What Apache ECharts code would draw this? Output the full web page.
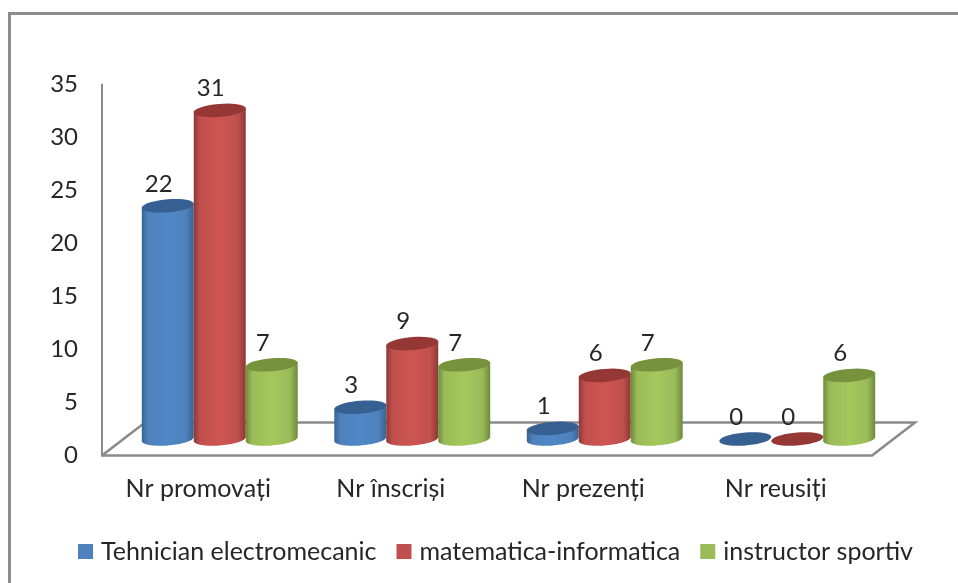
<!DOCTYPE html>
<html>
<head>
<meta charset="utf-8">
<style>
  html, body { margin: 0; padding: 0; background: #fff; }
  #chart { width: 958px; height: 583px; }
</style>
<script src="https://cdn.jsdelivr.net/npm/echarts@6/dist/echarts.min.js"></script>
</head>
<body>
<div id="chart"></div>
<script>
const categories = ['Nr promovați', 'Nr înscriși', 'Nr prezenți', 'Nr reusiți']
const seriesNames = ['Tehnician electromecanic', 'matematica-informatica', 'instructor sportiv']
const tehnician = [22, 3, 1, 0]
const matematica = [31, 9, 6, 0]
const instructor = [7, 7, 7, 6]
const yTicks = { min: 0, max: 35, interval: 5 }

const fontName = 'Lato'
const textColor = '#262626'
const lineColor = '#8a8a8a'

// culori pentru cilindri: margine, centru, capac
const palette = [
  { base: '#4F81BD', edge: '#386494', mid: '#5087C6', top: '#376092' },
  { base: '#C0504D', edge: '#8C3836', mid: '#CE5552', top: '#953735' },
  { base: '#9BBB59', edge: '#6E8B3A', mid: '#A4C85C', top: '#76923C' }
]

// adancimea podelei "3D"
const depthX = 43
const depthY = -33
const rY = 6.5
const tilt = 2

function arc(cx, cy, rx, from, to) {
  const pts = []
  const steps = 40
  for (let i = 0; i <= steps; i++) {
    const t = from + (to - from) * i / steps
    pts.push([cx + rx * Math.cos(t), cy + rY * Math.sin(t) - tilt * Math.cos(t)])
  }
  return pts
}

function cylinder(seriesIndex) {
  return function (params, api) {
    const band = api.size([1, 0])[0]
    const barW = band * 0.27
    const c = palette[seriesIndex]
    const pos = api.coord([api.value(0), api.value(1)])
    const base = api.coord([api.value(0), 0])
    const cx = pos[0] + depthX / 2 + (seriesIndex - 1) * barW
    const topY = pos[1] + depthY / 2
    const baseY = base[1] + depthY / 2
    const rx = barW / 2
    const children = []
    if (api.value(1) > 0) {
      const body = arc(cx, baseY, rx, 0, Math.PI)
      body.push([cx - rx, topY + tilt], [cx + rx, topY - tilt])
      children.push({
        type: 'polygon',
        shape: { points: body },
        style: {
          fill: {
            type: 'linear', x: 0, y: 0, x2: 1, y2: 0,
            colorStops: [
              { offset: 0, color: c.edge },
              { offset: 0.12, color: c.base },
              { offset: 0.5, color: c.mid },
              { offset: 0.85, color: c.base },
              { offset: 1, color: c.edge }
            ]
          }
        }
      })
    }
    children.push({
      type: 'polygon',
      shape: { points: arc(cx, topY, rx, 0, Math.PI * 2) },
      style: { fill: c.top }
    })
    children.push({
      type: 'text',
      x: cx - 9,
      y: topY - 22,
      style: {
        text: String(api.value(1)),
        fontFamily: fontName,
        fontSize: 24,
        fill: textColor,
        align: 'center',
        verticalAlign: 'middle'
      }
    })
    return { type: 'group', children }
  }
}

function floor(params, api) {
  const band = api.size([1, 0])[0]
  const p0 = api.coord([0, 0])
  const left = p0[0] - band / 2
  const right = left + band * categories.length
  const y = p0[1]
  return {
    type: 'polyline',
    shape: {
      points: [
        [left, y],
        [left + depthX, y + depthY],
        [right + depthX, y + depthY],
        [right, y]
      ]
    },
    style: { stroke: lineColor, lineWidth: 2.5, fill: 'none' }
  }
}

const valueLists = [tehnician, matematica, instructor]

const chart = echarts.init(document.getElementById('chart'), null, { renderer: 'canvas' })
chart.setOption({
  animation: false,
  backgroundColor: '#fff',
  textStyle: { fontFamily: fontName },
  grid: { left: 102, top: 84.5, width: 770, height: 371 },
  legend: {
    data: seriesNames,
    left: 73,
    top: 534,
    icon: 'rect',
    itemWidth: 15,
    itemHeight: 15,
    itemGap: 20,
    textStyle: { fontFamily: fontName, fontSize: 25, color: textColor, padding: [0, 0, 0, 3] }
  },
  xAxis: {
    type: 'category',
    data: categories,
    axisLine: { lineStyle: { color: lineColor, width: 2.5 } },
    axisTick: { show: false },
    axisLabel: { fontFamily: fontName, fontSize: 25, color: textColor, margin: 21 }
  },
  yAxis: {
    type: 'value',
    min: yTicks.min,
    max: yTicks.max,
    interval: yTicks.interval,
    splitLine: { show: false },
    axisTick: { show: false },
    axisLine: { show: true, lineStyle: { color: lineColor, width: 2 } },
    axisLabel: { fontFamily: fontName, fontSize: 24, color: textColor, margin: 24 }
  },
  graphic: [
    {
      type: 'polyline',
      shape: { points: [[9.5, 583], [9.5, 13.5], [958, 13.5]] },
      style: { stroke: '#8c8c8c', lineWidth: 3, fill: 'none' }
    }
  ],
  series: [
    {
      name: 'floor',
      type: 'custom',
      renderItem: floor,
      data: [[0, 0]],
      z: 1,
      silent: true
    }
  ].concat(seriesNames.map((name, s) => ({
    name,
    type: 'custom',
    renderItem: cylinder(s),
    itemStyle: { color: palette[s].base },
    encode: { x: 0, y: 1 },
    data: valueLists[s].map((v, i) => [i, v]),
    z: 2 + s
  })))
})

window.addEventListener('resize', () => chart.resize())
</script>
</body>
</html>
